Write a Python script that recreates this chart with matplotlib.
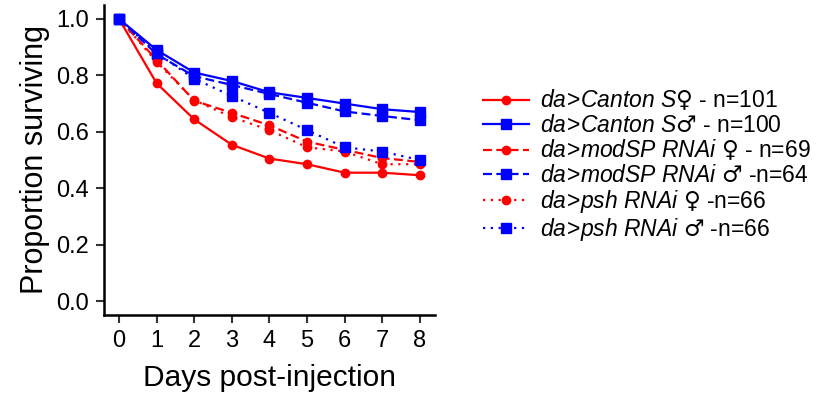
import numpy as np
import matplotlib
matplotlib.use("Agg")
import matplotlib.pyplot as plt

plt.rcParams['font.family'] = ['Liberation Sans', 'DejaVu Sans']
plt.rcParams['mathtext.fontset'] = 'custom'
plt.rcParams['mathtext.rm'] = 'Liberation Sans'
plt.rcParams['mathtext.it'] = 'Liberation Sans:italic'
plt.rcParams['mathtext.sf'] = 'DejaVu Sans'

days = [0, 1, 2, 3, 4, 5, 6, 7, 8]

canton_f = [1.0, 0.772, 0.644, 0.554, 0.505, 0.485, 0.455, 0.455, 0.446]
canton_m = [1.0, 0.89, 0.81, 0.78, 0.74, 0.72, 0.70, 0.68, 0.67]
modsp_f = [1.0, 0.855, 0.71, 0.667, 0.623, 0.565, 0.536, 0.507, 0.493]
modsp_m = [1.0, 0.875, 0.797, 0.766, 0.734, 0.703, 0.672, 0.656, 0.641]
psh_f = [1.0, 0.848, 0.712, 0.652, 0.606, 0.545, 0.530, 0.485, 0.485]
psh_m = [1.0, 0.879, 0.788, 0.727, 0.667, 0.606, 0.545, 0.530, 0.500]

labels = [r"$\mathit{da\!>\!Canton\ S}\mathsf{♀}$ - n=101",
          r"$\mathit{da\!>\!Canton\ S}\mathsf{♂}$ - n=100",
          r"$\mathit{da\!>\!modSP\ RNAi}\ \mathsf{♀}$ - n=69",
          r"$\mathit{da\!>\!modSP\ RNAi}\ \mathsf{♂}$ -n=64",
          r"$\mathit{da\!>\!psh\ RNAi}\ \mathsf{♀}$ -n=66",
          r"$\mathit{da\!>\!psh\ RNAi}\ \mathsf{♂}$ -n=66"]

series = [canton_f, canton_m, modsp_f, modsp_m, psh_f, psh_m]
colors = ['#ff0000', '#0000ff'] * 3
styles = ['-', '-', (0, (4, 2)), (0, (4, 2)), (0, (1, 2.5)), (0, (1, 2.5))]
markers = ['o', 's'] * 3

fig = plt.figure(figsize=(8.2, 4.03), dpi=100)
ax = fig.add_axes([0.1268, 0.218, 0.4035, 0.77])

for ys, c, ls, m, lab in zip(series, colors, styles, markers, labels):
    ax.plot(days, ys, color=c, linestyle=ls, marker=m, markersize=6.5 if m == 's' else 6,
            linewidth=1.6, label=lab)

ax.set_xlim(-0.4, 8.4)
ax.set_ylim(-0.05, 1.05)
ax.set_xticks(days)
ax.set_yticks([0.0, 0.2, 0.4, 0.6, 0.8, 1.0])
ax.set_yticklabels(['0.0', '0.2', '0.4', '0.6', '0.8', '1.0'])
ax.tick_params(labelsize=17, length=6, width=1.5, color='#333333', pad=5)
for s in ['top', 'right']:
    ax.spines[s].set_visible(False)
for s in ['left', 'bottom']:
    ax.spines[s].set_linewidth(1.8)

ax.set_xlabel("Days post-injection", fontsize=21.5, labelpad=8)
ax.set_ylabel("Proportion surviving", fontsize=22, labelpad=4)

leg = fig.legend(loc='upper left', bbox_to_anchor=(0.578, 0.805), frameon=False,
                 fontsize=16.5, handlelength=2.0, handletextpad=0.5, labelspacing=0.05,
                 borderaxespad=0)

fig.savefig("out.png", dpi=100)
